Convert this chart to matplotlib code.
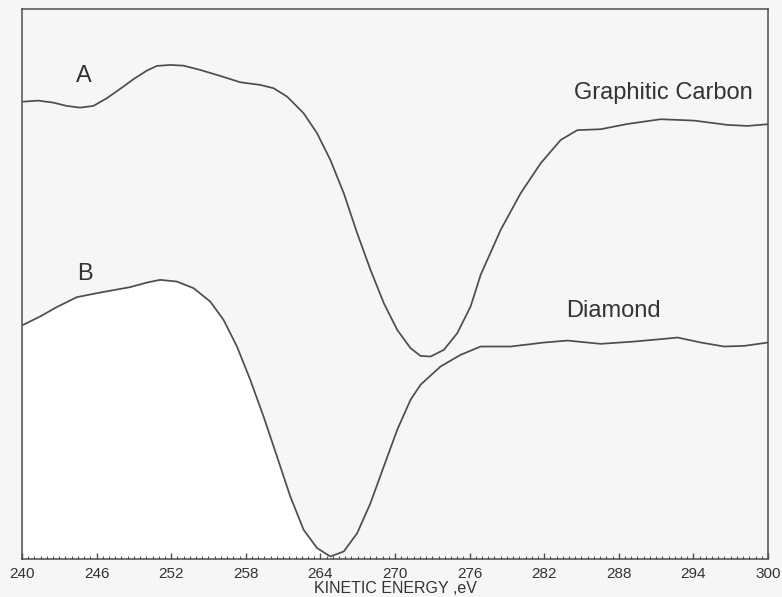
import numpy as np
import matplotlib.pyplot as plt

plt.rcParams['font.family'] = ['Liberation Sans', 'DejaVu Sans']

# Curve A: graphitic carbon (arbitrary intensity units)
energia_a = [240.10, 241.31, 242.52, 243.60, 244.67, 245.74, 246.82, 247.89, 248.96,
             250.04, 250.85, 251.92, 252.99, 254.34, 255.95, 257.56, 259.17, 260.24,
             261.32, 262.65, 263.73, 264.80, 265.88, 266.96, 268.03, 269.10, 270.18,
             271.25, 272.05, 272.86, 273.93, 275.01, 276.08, 276.89, 278.50, 280.11,
             281.72, 283.33, 284.67, 286.55, 288.70, 291.38, 294.06, 296.75, 298.36,
             300.0]
senal_a = [83.08, 83.27, 82.90, 82.30, 81.99, 82.30, 83.70, 85.40, 87.17,
           88.74, 89.60, 89.78, 89.65, 88.87, 87.77, 86.62, 86.13, 85.53,
           84.00, 80.97, 77.32, 72.45, 66.37, 59.07, 52.37, 46.30, 41.42,
           38.08, 36.68, 36.55, 37.77, 40.82, 45.68, 51.46, 59.67, 66.37,
           71.84, 76.09, 77.88, 78.05, 79.01, 79.87, 79.62, 78.83, 78.65,
           78.96]

# Curve B: diamond
energia_b = [240.10, 241.45, 242.79, 244.41, 246.28, 248.70, 250.04, 251.11, 252.46,
             253.80, 255.14, 256.21, 257.29, 258.36, 259.43, 260.51, 261.58, 262.65,
             263.73, 264.80, 265.88, 266.96, 268.03, 269.10, 270.18, 271.25, 272.05,
             273.66, 275.27, 276.89, 279.30, 281.98, 283.87, 286.55, 289.23, 291.38,
             292.73, 294.60, 296.48, 298.09, 300.0]
senal_b = [42.34, 43.85, 45.57, 47.39, 48.23, 49.22, 50.05, 50.55, 50.24,
           49.03, 46.59, 43.25, 38.38, 32.30, 25.60, 18.30, 11.00, 4.93,
           1.59, 0.05, 0.97, 4.32, 9.80, 16.48, 23.18, 28.65, 31.39,
           34.73, 36.86, 38.38, 38.38, 39.11, 39.47, 38.87, 39.29, 39.73,
           40.02, 39.11, 38.38, 38.50, 39.11]

etiquetas_x = [240, 246, 252, 258, 264, 270, 276, 282, 288, 294, 300]

fondo = '#f6f6f6'
color_linea = '#4d4d4d'
color_texto = '#333333'

fig = plt.figure(figsize=(7.82, 5.97), dpi=100, facecolor=fondo)
ax = fig.add_axes([0.0281, 0.0637, 0.9540, 0.9213])
ax.set_facecolor(fondo)

# the scanned original is whiter under the left part of curve B
eb = np.array(energia_b)
sb = np.array(senal_b)
ax.fill_between(eb, -1, sb, where=eb <= 264.9, color='white', linewidth=0)

ax.plot(energia_a, senal_a, color=color_linea, linewidth=1.25)
ax.plot(energia_b, senal_b, color=color_linea, linewidth=1.25)

ax.set_xlim(240, 300)
ax.set_ylim(-0.4, 100)
ax.set_xticks(etiquetas_x)
ax.set_xticks(np.arange(240, 300.01, 0.5), minor=True)
ax.set_yticks([])
ax.tick_params(axis='x', which='major', direction='in', length=4, width=1,
               color=color_linea, labelsize=11, labelcolor=color_texto, pad=6)
ax.tick_params(axis='x', which='minor', direction='in', length=2, width=0.8,
               color=color_linea)
for lado in ax.spines.values():
    lado.set_color(color_linea)
    lado.set_linewidth(1.1)

ax.set_xlabel('KINETIC ENERGY ,eV', fontsize=11.5, color=color_texto, labelpad=0)

ax.text(244.35, 86.7, 'A', fontsize=17, color=color_texto, va='baseline')
ax.text(244.43, 50.5, 'B', fontsize=17, color=color_texto, va='baseline')
ax.text(284.37, 83.5, 'Graphitic Carbon', fontsize=17, color=color_texto, va='baseline')
ax.text(283.73, 43.7, 'Diamond', fontsize=17, color=color_texto, va='baseline')

fig.savefig('out.png', dpi=100, facecolor=fondo)
